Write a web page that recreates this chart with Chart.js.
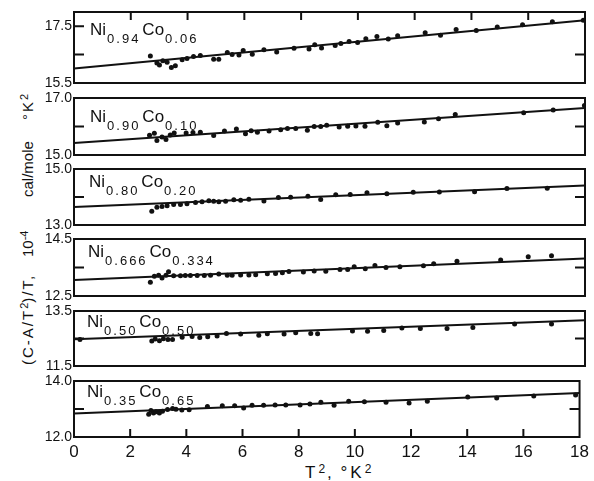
<!DOCTYPE html>
<html>
<head>
<meta charset="utf-8">
<script src="https://cdn.jsdelivr.net/npm/chart.js@4.4.1/dist/chart.umd.min.js"></script>
<style>
  html, body { margin: 0; padding: 0; background: #fff; }
  #wrap { position: relative; width: 594px; height: 481px; overflow: hidden;
          font-family: "Liberation Sans", Arial, sans-serif; color: #111; }
  #wrap canvas { position: absolute; left: 0; }
  #ytitle { position: absolute; left: 20px; top: 365px; transform: rotate(-90deg);
            transform-origin: 0 0; white-space: nowrap; font-size: 15px; line-height: 15px; }
  #ytitle span { display: inline-block; }
  #xtitle { position: absolute; left: 305px; top: 464px; white-space: nowrap;
            font-size: 17px; line-height: 17px; letter-spacing: 3px; word-spacing: -2px; }
  sup { font-size: 11px; line-height: 0; vertical-align: 5px; letter-spacing: 0; }
  #xtitle sup { font-size: 12px; letter-spacing: 2px; }
</style>
</head>
<body>
<div id="wrap">
  <div id="ytitle"><span style="width:98px;letter-spacing:2px">(C-A/T<sup>2</sup>)/T,</span><span style="width:27px;margin-left:10px">10<sup>-4</sup></span><span style="width:54px;margin-left:33px">cal/mole</span><span style="width:40px;margin-left:23px;letter-spacing:2px">°K<sup>2</sup></span></div>
  <div id="xtitle">T<sup>2</sup>, °K<sup>2</sup></div>
</div>
<script>
// shared x axis (T^2, °K^2)
const xTicks = [0, 2, 4, 6, 8, 10, 12, 14, 16, 18];
const fitX = [0, 18];

// Ni0.94 Co0.06
const t2A = [2.69, 2.92, 3.01, 3.13, 3.28, 3.43, 3.57, 3.81, 3.98, 4.21, 4.45, 4.92, 5.10, 5.40, 5.57, 5.81, 5.96, 6.28, 6.69, 7.14,
             7.75, 8.28, 8.48, 8.72, 9.20, 9.40, 9.69, 9.99, 10.28, 10.67, 11.07, 11.40, 12.37, 12.91, 13.46, 14.17, 14.91, 15.80, 16.85, 17.94];
const cA = [16.45, 16.20, 16.13, 16.28, 16.23, 16.05, 16.11, 16.32, 16.36, 16.43, 16.47, 16.34, 16.34, 16.57, 16.50, 16.49, 16.64, 16.51, 16.67, 16.59,
            16.72, 16.70, 16.85, 16.73, 16.82, 16.89, 16.96, 16.93, 17.06, 17.14, 17.05, 17.16, 17.27, 17.18, 17.38, 17.35, 17.47, 17.55, 17.66, 17.71];
const fitA = [16.01, 17.71];

// Ni0.90 Co0.10
const t2B = [2.66, 2.83, 2.92, 3.10, 3.24, 3.39, 3.53, 3.95, 4.19, 4.45, 4.92, 5.30, 5.72, 6.04, 6.24, 6.46, 6.87, 7.28, 7.52, 7.81,
             8.22, 8.46, 8.69, 8.90, 9.34, 9.64, 9.93, 10.25, 10.70, 11.02, 11.40, 12.34, 12.84, 13.43, 15.84, 16.88, 17.98];
const cB = [15.69, 15.76, 15.51, 15.63, 15.54, 15.70, 15.77, 15.77, 15.79, 15.80, 15.68, 15.84, 15.91, 15.75, 15.85, 15.80, 15.84, 15.89, 15.93, 15.93,
            15.87, 16.00, 16.00, 16.04, 15.98, 16.01, 16.02, 16.01, 16.15, 16.03, 16.12, 16.16, 16.27, 16.42, 16.48, 16.58, 16.74];
const fitB = [15.42, 16.65];

// Ni0.80 Co0.20
const t2C = [2.74, 2.92, 3.10, 3.28, 3.51, 3.75, 3.98, 4.28, 4.51, 4.75, 4.92, 5.10, 5.34, 5.63, 5.87, 6.16, 6.69, 7.20, 7.63, 8.24,
             8.69, 9.22, 9.73, 10.32, 11.02, 11.95, 12.87, 14.11, 15.25, 16.67];
const cC = [13.49, 13.63, 13.66, 13.69, 13.73, 13.73, 13.76, 13.80, 13.83, 13.87, 13.85, 13.83, 13.85, 13.90, 13.88, 13.92, 13.86, 13.98, 13.99, 14.03,
            13.91, 14.08, 14.09, 14.15, 14.12, 14.17, 14.18, 14.19, 14.30, 14.31];
const fitC = [13.64, 14.41];

// Ni0.666 Co0.334
const t2D = [2.69, 2.83, 2.98, 3.10, 3.24, 3.33, 3.51, 3.75, 3.92, 4.10, 4.34, 4.59, 4.81, 5.10, 5.40, 5.57, 5.87, 6.16, 6.40, 6.81,
             7.10, 7.34, 7.57, 8.08, 8.46, 8.87, 9.37, 9.64, 9.87, 10.26, 10.60, 10.99, 11.48, 12.31, 12.67, 13.49, 15.03, 16.00, 16.82];
const cD = [12.98, 13.19, 13.23, 13.13, 13.23, 13.35, 13.21, 13.21, 13.22, 13.22, 13.22, 13.22, 13.23, 13.27, 13.23, 13.23, 13.24, 13.24, 13.25, 13.28,
            13.29, 13.32, 13.36, 13.34, 13.38, 13.37, 13.43, 13.43, 13.53, 13.46, 13.57, 13.50, 13.53, 13.56, 13.63, 13.72, 13.76, 13.88, 13.91];
const fitD = [13.06, 13.82];

// Ni0.50 Co0.50
const t2E = [0.21, 2.74, 2.86, 3.01, 3.15, 3.31, 3.47, 3.81, 4.16, 4.43, 4.71, 5.04, 5.37, 5.87, 6.51, 6.81, 7.40, 7.81, 8.34, 8.58,
             9.81, 10.34, 10.91, 11.55, 12.20, 13.14, 14.05, 15.52, 16.82];
const cE = [12.46, 12.41, 12.48, 12.42, 12.49, 12.46, 12.46, 12.55, 12.57, 12.54, 12.56, 12.59, 12.68, 12.66, 12.62, 12.67, 12.66, 12.71, 12.68, 12.67,
            12.77, 12.76, 12.79, 12.88, 12.86, 12.86, 12.90, 13.03, 13.03];
const fitE = [12.47, 13.16];

// Ni0.35 Co0.65
const t2F = [2.66, 2.74, 2.83, 2.92, 3.04, 3.15, 3.33, 3.51, 3.63, 3.84, 4.10, 4.75, 5.28, 5.72, 6.04, 6.34, 6.75, 7.16, 7.54, 8.05,
             8.40, 8.79, 9.26, 9.78, 10.34, 11.11, 11.93, 12.58, 14.02, 15.05, 16.37, 17.86];
const cF = [12.81, 12.95, 12.86, 12.90, 12.86, 12.92, 12.98, 13.02, 12.99, 12.96, 12.97, 13.09, 13.12, 13.12, 13.04, 13.13, 13.13, 13.14, 13.14, 13.14,
            13.18, 13.24, 13.13, 13.28, 13.26, 13.24, 13.21, 13.28, 13.43, 13.39, 13.46, 13.50];
const fitF = [12.84, 13.57];

// y tick values and the ones that carry a label
const yTicksA = [15.5, 16.5, 17.5], yLabA = [15.5, 17.5];
const yTicksB = [15.0, 16.0, 17.0], yLabB = [15.0, 17.0];
const yTicksC = [13.0, 14.0, 15.0], yLabC = [13.0, 15.0];
const yTicksD = [12.5, 13.5, 14.5], yLabD = [12.5, 14.5];
const yTicksE = [11.5, 12.5, 13.5], yLabE = [11.5, 13.5];
const yTicksF = [12.0, 13.0, 14.0], yLabF = [12.0, 14.0];

const panels = [
  { ni: '0.94',  co: '0.06',  x: t2A, y: cA, fit: fitA, min: 15.5, max: 18.0, ticks: yTicksA, labels: yLabA, left: [16.5, 17.5], right: [16.5] },
  { ni: '0.90',  co: '0.10',  x: t2B, y: cB, fit: fitB, min: 15.0, max: 17.0, ticks: yTicksB, labels: yLabB, left: [16.0], right: [16.0] },
  { ni: '0.80',  co: '0.20',  x: t2C, y: cC, fit: fitC, min: 13.0, max: 15.0, ticks: yTicksC, labels: yLabC, left: [14.0], right: [14.0] },
  { ni: '0.666', co: '0.334', x: t2D, y: cD, fit: fitD, min: 12.5, max: 14.5, ticks: yTicksD, labels: yLabD, left: [13.5], right: [13.5] },
  { ni: '0.50',  co: '0.50',  x: t2E, y: cE, fit: fitE, min: 11.5, max: 13.5, ticks: yTicksE, labels: yLabE, left: [12.5], right: [12.5] },
  { ni: '0.35',  co: '0.65',  x: t2F, y: cF, fit: fitF, min: 12.0, max: 14.0, ticks: yTicksF, labels: yLabF, left: [13.0], right: [13.0] }
];

// plot-area boxes (top, bottom) and label placement
const boxes = [[12, 83], [98, 155], [169, 225], [239, 296], [311, 366], [381, 437]];
const labelPos = [[90, 23], [90, 24], [89, 18], [88, 18], [87, 16], [87, 16]];
const ink = '#111';
const font = '"Liberation Sans", Arial, sans-serif';

function spaced(ctx, txt, x, y, gap) {
  for (const ch of txt) {
    ctx.fillText(ch, x, y);
    x += ctx.measureText(ch).width + gap;
  }
  return x - gap;
}

const framePlugin = {
  id: 'frame',
  afterDatasetsDraw(chart, args, o) {
    const { ctx, chartArea: a, scales } = chart;
    ctx.save();
    ctx.strokeStyle = ink;
    ctx.lineWidth = 2;
    ctx.strokeRect(a.left, a.top, a.right - a.left, a.bottom - a.top);
    ctx.beginPath();
    o.left.forEach(v => {
      const y = scales.y.getPixelForValue(v);
      ctx.moveTo(a.left, y); ctx.lineTo(a.left + 10, y);
    });
    o.right.forEach(v => {
      const y = scales.y.getPixelForValue(v);
      ctx.moveTo(a.right, y); ctx.lineTo(a.right - 10, y);
    });
    xTicks.slice(1, -1).forEach(v => {
      const x = scales.x.getPixelForValue(v);
      if (o.top) { ctx.moveTo(x, a.top); ctx.lineTo(x, a.top + 8); }
      if (o.bottom) { ctx.moveTo(x, a.bottom); ctx.lineTo(x, a.bottom - 8); }
    });
    ctx.stroke();

    // composition label, e.g. Ni0.94Co0.06
    ctx.fillStyle = ink;
    ctx.textAlign = 'left';
    ctx.textBaseline = 'alphabetic';
    let x = o.lx;
    const base = a.top + o.ly;
    ctx.font = '17px ' + font;
    ctx.fillText('Ni', x, base);
    x += ctx.measureText('Ni').width + 1;
    ctx.font = '13px ' + font;
    x = spaced(ctx, o.ni, x, base + 8, 2) + 4;
    ctx.font = '17px ' + font;
    ctx.fillText('Co', x, base);
    x += ctx.measureText('Co').width + 1;
    ctx.font = '13px ' + font;
    spaced(ctx, o.co, x, base + 8, 2);
    ctx.restore();
  }
};

const wrap = document.getElementById('wrap');

panels.forEach((p, i) => {
  const last = i === panels.length - 1;
  const [top, bottom] = boxes[i];
  const canvasTop = top - 12;
  const canvasH = last ? 481 - canvasTop : bottom - top + 24;

  const canvas = document.createElement('canvas');
  canvas.width = 594;
  canvas.height = canvasH;
  canvas.style.top = canvasTop + 'px';
  wrap.appendChild(canvas);

  const data = {
    datasets: [
      {
        data: fitX.map((v, k) => ({ x: v, y: p.fit[k] })),
        showLine: true,
        borderColor: ink,
        borderWidth: 2,
        pointRadius: 0
      },
      {
        data: p.x.map((v, k) => ({ x: v, y: p.y[k] })),
        backgroundColor: ink,
        borderColor: ink,
        borderWidth: 0,
        pointRadius: 2.5
      }
    ]
  };

  const config = {
    type: 'scatter',
    data: data,
    options: {
      responsive: false,
      animation: false,
      devicePixelRatio: 1,
      layout: { padding: { top: 12, bottom: last ? 0 : 12, left: 0, right: 9 } },
      plugins: {
        legend: { display: false },
        tooltip: { enabled: false },
        frame: {
          left: p.left, right: p.right, top: i === 0, bottom: last,
          ni: p.ni, co: p.co, lx: labelPos[i][0], ly: labelPos[i][1]
        }
      },
      scales: {
        x: {
          type: 'linear',
          min: 0,
          max: 18,
          display: last,
          grid: { display: false, drawTicks: false },
          border: { display: false },
          afterBuildTicks: (s) => { s.ticks = xTicks.map(v => ({ value: v })); },
          afterFit: (s) => { s.height = last ? 44 : 0; },
          ticks: { autoSkip: false, maxRotation: 0, padding: 5, color: ink, font: { family: font, size: 17 } }
        },
        y: {
          min: p.min,
          max: p.max,
          grid: { display: false, drawTicks: false },
          border: { display: false },
          afterBuildTicks: (s) => { s.ticks = p.ticks.map(v => ({ value: v })); },
          afterFit: (s) => { s.width = 74; },
          ticks: {
            padding: 2,
            color: ink,
            font: { family: font, size: 14 },
            callback: (v) => p.labels.includes(v) ? v.toFixed(1) : ''
          }
        }
      }
    },
    plugins: [framePlugin]
  };

  new Chart(canvas, config);
});
</script>
</body>
</html>
